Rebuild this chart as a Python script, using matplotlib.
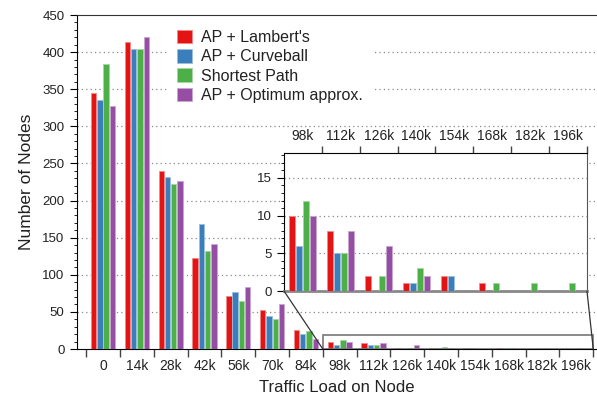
import matplotlib
matplotlib.use('Agg')
import matplotlib.pyplot as plt
import numpy as np
from matplotlib.patches import Rectangle, ConnectionPatch
from matplotlib.ticker import MultipleLocator

plt.rcParams['font.family'] = ['Liberation Sans', 'DejaVu Sans']

# data
loads = ['0', '14k', '28k', '42k', '56k', '70k', '84k', '98k',
         '112k', '126k', '140k', '154k', '168k', '182k', '196k']
series = ["AP + Lambert's", 'AP + Curveball', 'Shortest Path', 'AP + Optimum approx.']
lambert = [345, 413, 240, 123, 72, 53, 26, 10, 8, 2, 1, 2, 1, 0, 0]
curveball = [335, 404, 232, 169, 77, 45, 20, 6, 5, 0, 1, 2, 0, 0, 0]
shortest = [384, 404, 222, 132, 65, 40, 24, 12, 5, 2, 3, 0, 1, 1, 1]
optimum = [327, 421, 226, 142, 84, 60, 13, 10, 8, 6, 2, 0, 0, 0, 0]
colors = ['#e41414', '#3a7fbb', '#4caf48', '#954ea3']
edge_colors = ['#f08a8a', '#9dbfdd', '#a5d7a3', '#caa6d1']

values = [lambert, curveball, shortest, optimum]
x = np.arange(len(loads))
width = 0.16
step = 0.185
offsets = (np.arange(4) - 1.5) * step
grid_style = dict(color='#888888', linestyle=(0, (1, 2.5)), linewidth=0.9, zorder=1)

fig = plt.figure(figsize=(5.97, 4.0), dpi=100)
ax = fig.add_axes([0.129, 0.1275, 0.871, 0.835])

for i in range(4):
    ax.bar(x + offsets[i], values[i], width, color=colors[i],
           edgecolor=edge_colors[i], linewidth=0.6, label=series[i], zorder=3)

ax.set_xlim(-0.77, 14.61)
ax.set_ylim(0, 450)
ax.yaxis.set_major_locator(MultipleLocator(50))
ax.yaxis.set_minor_locator(MultipleLocator(10))
ax.set_xticks(np.arange(-0.5, 15, 1.0))
ax.set_xticklabels([])
ax.set_xticks(x, minor=True)
ax.set_xticklabels(loads, minor=True, fontsize=10, color='#222222')
ax.tick_params(axis='x', which='major', length=6, width=1, color='#444444')
ax.tick_params(axis='x', which='minor', length=0, pad=7)
ax.tick_params(axis='y', which='major', length=5, pad=4, labelsize=9.5, labelcolor='#222222')
ax.tick_params(axis='y', which='minor', length=2.5)
ax.spines['right'].set_visible(False)
ax.spines['top'].set_color('#333333')
for yv in range(50, 450, 50):
    ax.axhline(yv, **grid_style)

ax.set_xlabel('Traffic Load on Node', fontsize=12, color='#222222', labelpad=5)
ax.set_ylabel('Number of Nodes', fontsize=12.5, color='#222222', labelpad=6)

leg = ax.legend(loc='upper left', bbox_to_anchor=(0.173, 0.985), frameon=True,
                fontsize=11.5, handlelength=0.95, handleheight=0.95,
                handletextpad=0.55, labelspacing=0.25, borderpad=0.6,
                borderaxespad=0, fancybox=False)
leg.get_frame().set_facecolor('white')
leg.get_frame().set_edgecolor('none')
leg.get_frame().set_alpha(1)
leg.set_zorder(5)
for t in leg.get_texts():
    t.set_color('#222222')

# zoomed inset
inset_top = 18.3
axins = fig.add_axes([0.4757, 0.2725, 0.5075, 0.345])
for i in range(4):
    axins.bar(x + offsets[i], values[i], width, color=colors[i],
              edgecolor=edge_colors[i], linewidth=0.6, zorder=3)
axins.set_xlim(6.5, 14.5)
axins.set_ylim(0, inset_top)
axins.xaxis.tick_top()
axins.set_xticks(np.arange(7.5, 14.6, 1.0))
axins.set_xticklabels([])
axins.set_xticks(x[7:], minor=True)
axins.set_xticklabels(loads[7:], minor=True, fontsize=10, color='#222222')
axins.tick_params(axis='x', which='major', length=5, width=1, color='#444444')
axins.tick_params(axis='x', which='minor', length=0, pad=7)
axins.yaxis.set_major_locator(MultipleLocator(5))
axins.yaxis.set_minor_locator(MultipleLocator(1))
axins.tick_params(axis='y', which='major', length=5, labelsize=9.5, labelcolor='#222222')
axins.tick_params(axis='y', which='minor', length=2.5)
axins.spines['bottom'].set_color('#888888')
axins.spines['bottom'].set_linewidth(2)
axins.spines['right'].set_color('#555555')
for yv in [5, 10, 15]:
    axins.axhline(yv, **grid_style)

# zoom box on the main axes and connector lines
ax.add_patch(Rectangle((6.5, 0), 8.0, inset_top, fill=False, edgecolor='#777777',
                       linewidth=1.2, zorder=4))
for xa in [6.5, 14.5]:
    con = ConnectionPatch(xyA=(xa, 0), coordsA=axins.transData,
                          xyB=(xa, 0), coordsB=ax.transData,
                          color='#333333', linewidth=0.9)
    fig.add_artist(con)

fig.savefig('out.png', dpi=100)
